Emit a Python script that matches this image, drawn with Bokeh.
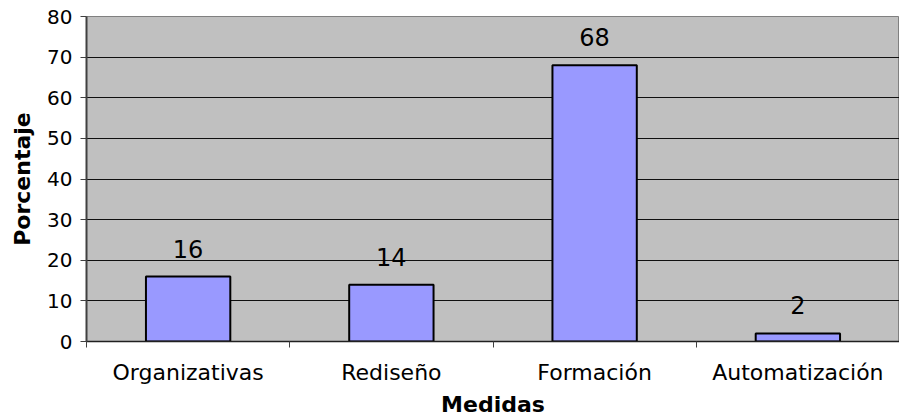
from bokeh.plotting import figure
from bokeh.models import ColumnDataSource, FixedTicker, Range1d, LabelSet
from bokeh.core.properties import value
from bokeh.embed import file_html
from bokeh.resources import INLINE

categories = ["Organizativas", "Rediseño", "Formación", "Automatización"]
values = [16, 14, 68, 2]
y_ticks = [0, 10, 20, 30, 40, 50, 60, 70, 80]

xpos = [i + 0.5 for i in range(len(categories))]
src = ColumnDataSource(dict(x=xpos, top=values, label=[str(v) for v in values]))

p = figure(width=899, height=419, output_backend="svg", toolbar_location=None,
           x_range=Range1d(0, len(categories)), y_range=Range1d(0, 80),
           min_border_left=86, min_border_right=0, min_border_top=16, min_border_bottom=78)

p.background_fill_color = "#C0C0C0"
p.border_fill_color = "white"
p.outline_line_color = "#808080"
p.outline_line_width = 1

p.vbar(x="x", top="top", width=0.415, bottom=0, source=src,
       fill_color="#9999FF", line_color="black", line_width=2)

labels = LabelSet(x="x", y="top", text="label", source=src, text_align="center",
                  text_baseline="bottom", y_offset=19, text_font=value("DejaVu Sans"),
                  text_font_size="24px", text_color="black")
p.add_layout(labels)

# x axis
p.xaxis.ticker = FixedTicker(ticks=xpos, minor_ticks=list(range(len(categories) + 1)))
p.xaxis.major_label_overrides = {x: c for x, c in zip(xpos, categories)}
p.xaxis.major_tick_out = 0
p.xaxis.major_tick_in = 0
p.xaxis.minor_tick_out = 6
p.xaxis.minor_tick_in = 0
p.xaxis.minor_tick_line_color = "#404040"
p.xaxis.axis_line_color = "#202020"
p.xaxis.axis_line_width = 1.5
p.xaxis.major_label_standoff = 12
p.xaxis.major_label_text_font = "DejaVu Sans"
p.xaxis.major_label_text_font_size = "22px"
p.xaxis.major_label_text_color = "black"
p.xaxis.axis_label = "Medidas"
p.xaxis.axis_label_text_font = "DejaVu Sans"
p.xaxis.axis_label_text_font_style = "bold"
p.xaxis.axis_label_text_font_size = "22px"
p.xaxis.axis_label_text_color = "black"
p.xaxis.axis_label_standoff = 4

# y axis
p.yaxis.ticker = FixedTicker(ticks=y_ticks, minor_ticks=[])
p.yaxis.major_tick_out = 6
p.yaxis.major_tick_in = 0
p.yaxis.major_tick_line_color = "#404040"
p.yaxis.axis_line_color = "#404040"
p.yaxis.axis_line_width = 2
p.yaxis.major_label_standoff = 8
p.yaxis.major_label_text_font = "DejaVu Sans"
p.yaxis.major_label_text_font_size = "20px"
p.yaxis.major_label_text_color = "black"
p.yaxis.axis_label = "Porcentaje"
p.yaxis.axis_label_text_font = "DejaVu Sans"
p.yaxis.axis_label_text_font_style = "bold"
p.yaxis.axis_label_text_font_size = "22px"
p.yaxis.axis_label_text_color = "black"
p.yaxis.axis_label_standoff = 9

p.xgrid.grid_line_color = None
p.ygrid.ticker = FixedTicker(ticks=y_ticks)
p.ygrid.grid_line_color = "#101010"
p.ygrid.grid_line_width = 1

open("out.html", "w").write(file_html(p, INLINE))
